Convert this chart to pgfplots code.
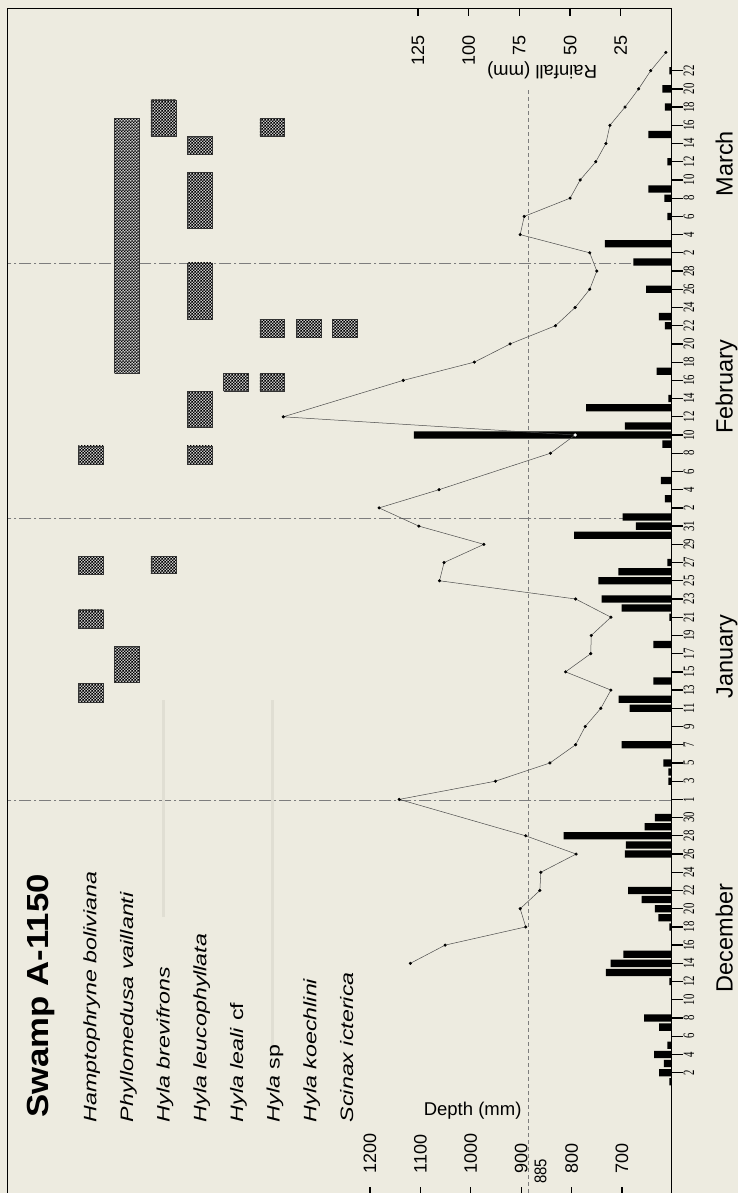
\documentclass[border=0pt]{standalone}
\usepackage{fontspec}
\setmainfont{Liberation Sans}
\newfontfamily\dayfont{Liberation Serif}
\usepackage{pgfplots}
\usepackage{pgfplotstable}
\pgfplotsset{compat=1.18}
\usetikzlibrary{patterns}
\definecolor{bg}{RGB}{237,235,224}
\definecolor{guide}{RGB}{224,222,211}
\definecolor{sepc}{RGB}{125,125,125}
\pgfdeclarepatternformonly{finecheck}{\pgfqpoint{0pt}{0pt}}{\pgfqpoint{3.3pt}{3.3pt}}{\pgfqpoint{3.3pt}{3.3pt}}{%
  \pgfpathrectangle{\pgfqpoint{0pt}{0pt}}{\pgfqpoint{1.65pt}{1.65pt}}%
  \pgfpathrectangle{\pgfqpoint{1.65pt}{1.65pt}}{\pgfqpoint{1.65pt}{1.65pt}}%
  \pgfusepath{fill}}

% daily rainfall (day index: Dec d = d, Jan d = 31+d, Feb d = 62+d, Mar d = 90+d)
\pgfplotstableread{
day rain
1 1
2 6.1
3 3.7
4 8.5
5 2
7 6.1
8 13.5
12 1
13 32.3
14 30
15 23.7
18 1
19 6.4
20 8.2
21 14.7
22 21.4
26 22.9
27 22.4
28 53.2
29 13.2
30 8.2
34 1.5
35 1.5
36 4
38 24.5
42 20.6
43 26
45 8.9
49 8.9
52 1
53 24.5
54 34.4
56 36
57 26.2
58 2
61 48
62 17.5
63 24.1
65 3.2
67 5.2
71 4.5
72 127
73 22.9
75 42.1
76 1.5
79 7.3
84 3.2
85 6.2
88 12.5
91 18.8
93 32.8
96 2
98 3.5
99 11.4
102 2
105 11.4
108 3.2
110 4.5
112 1
}\rain

% swamp depth
\pgfplotstableread{
day depth
14 1120
16 1051
18 891
20 902
22 863
24 861
26 791
28 891
32 1142
34 951
36 843
38 792
40 773
42 742
44 722
46 812
48 762
50 761
52 722
54 792
56 1062
58 1053
60 974
62 1103
64 1182
66 1063
70 842
72 793
74 1372
78 1134
80 993
82 922
84 832
86 793
88 764
90 750
92 764
94 902
96 894
98 803
100 783
102 752
104 732
106 724
108 694
110 667
112 643
114 613
}\depth

\pgfplotsset{
  base/.style={at={(7pt,0pt)}, anchor=south west, scale only axis,
    width=664.4pt, height=1185pt, ymin=-11.21, ymax=118.88, clip=false},
  spbox/.style={preaction={fill=black!22}, pattern=finecheck, pattern color=black, draw=black!80, line width=0.6pt},
}
\tikzset{
  splab/.style={rotate=90, xscale=1.29, anchor=base west, font=\fontsize{18}{18}\selectfont},
  ticklab/.style={rotate=90, font=\fontsize{18}{18}\selectfont},
  monthlab/.style={rotate=90, anchor=base, font=\fontsize{23.5}{24}\selectfont},
}

\begin{document}
\begin{tikzpicture}
\useasboundingbox (0,0) rectangle (738pt,1193pt);
\fill[bg] (0,0) rectangle (738pt,1193pt);

% ---------- date axis, month separators ----------
\begin{axis}[base, xmin=602, xmax=1920.2, x dir=reverse,
  axis y line*=right, axis x line=none,
  axis line style={-, line width=1.8pt},
  xtick=\empty,
  ytick={2,4,...,112},
  yticklabels={2,4,6,8,10,12,14,16,18,20,22,24,26,28,30,1,3,5,7,9,11,13,15,17,19,21,23,25,27,29,31,2,4,6,8,10,12,14,16,18,20,22,24,26,28,2,4,6,8,10,12,14,16,18,20,22},
  tick align=outside, major tick length=12pt,
  tick style={black, line width=1.3pt},
  yticklabel style={font=\dayfont\fontsize{15.8}{16}\selectfont, rotate=90, xscale=0.68, anchor=north, inner sep=0pt},
]
\addplot[sepc, line width=0.7pt, dash pattern=on 12pt off 3pt on 2pt off 3pt] coordinates {(602,31.9) (1920.2,31.9)};
\addplot[sepc, line width=0.7pt, dash pattern=on 12pt off 3pt on 2pt off 3pt] coordinates {(602,62.9) (1920.2,62.9)};
\addplot[sepc, line width=0.7pt, dash pattern=on 12pt off 3pt on 2pt off 3pt] coordinates {(602,90.9) (1920.2,90.9)};
\addplot[sepc, line width=0.6pt, dash pattern=on 4pt off 3pt] coordinates {(885,-11.21) (885,110)};
\node[monthlab] at (axis cs:480.75,16.8) {December};
\node[monthlab] at (axis cs:480.75,47.7) {January};
\node[monthlab] at (axis cs:480.75,77.3) {February};
\node[monthlab] at (axis cs:480.75,101.8) {March};
\end{axis}

% ---------- rainfall bars ----------
\begin{axis}[base, xmin=0, xmax=327.8, x dir=reverse,
  axis x line*=top, axis y line*=left,
  axis line style={-, line width=0.9pt},
  ytick=\empty, xtick={25,50,75,100,125}, xticklabels={},
  tick align=inside, major tick length=8pt, tick style={black, line width=1.2pt},
]
\addplot[xbar, bar width=7.3pt, bar shift=0pt, fill=black, draw=none] table[x=rain, y=day]{\rain};
\node[ticklab, anchor=east] at (axis cs:25,116.28) {25};
\node[ticklab, anchor=east] at (axis cs:50,116.28) {50};
\node[ticklab, anchor=east] at (axis cs:75,116.28) {75};
\node[ticklab, anchor=east] at (axis cs:100,116.28) {100};
\node[ticklab, anchor=east] at (axis cs:125,116.28) {125};
\node[rotate=180, font=\fontsize{18.5}{19}\selectfont] at (axis cs:63.8,112.02) {Rainfall (mm)};
\end{axis}

% ---------- species presence ----------
\begin{axis}[base, xmin=-1.3085, xmax=16.994, hide axis]
\addplot[guide, line width=2.5pt] coordinates {(3,19.1) (3,42.9)};
\addplot[guide, line width=2.5pt] coordinates {(6,4.5) (6,42.9)};
% Hamptophryne boliviana
\addplot[spbox] coordinates {(0.656,68.8) (1.344,68.8) (1.344,70.8) (0.656,70.8) (0.656,68.8)};
\addplot[spbox] coordinates {(0.656,56.7) (1.344,56.7) (1.344,58.7) (0.656,58.7) (0.656,56.7)};
\addplot[spbox] coordinates {(0.656,50.8) (1.344,50.8) (1.344,52.8) (0.656,52.8) (0.656,50.8)};
\addplot[spbox] coordinates {(0.656,42.7) (1.344,42.7) (1.344,44.75) (0.656,44.75) (0.656,42.7)};
% Phyllomedusa vaillanti
\addplot[spbox] coordinates {(1.656,78.8) (2.344,78.8) (2.344,106.8) (1.656,106.8) (1.656,78.8)};
\addplot[spbox] coordinates {(1.656,44.8) (2.344,44.8) (2.344,48.8) (1.656,48.8) (1.656,44.8)};
% Hyla brevifrons
\addplot[spbox] coordinates {(2.656,104.8) (3.344,104.8) (3.344,108.8) (2.656,108.8) (2.656,104.8)};
\addplot[spbox] coordinates {(2.656,56.8) (3.344,56.8) (3.344,58.7) (2.656,58.7) (2.656,56.8)};
% Hyla leucophyllata
\addplot[spbox] coordinates {(3.656,102.8) (4.344,102.8) (4.344,104.8) (3.656,104.8) (3.656,102.8)};
\addplot[spbox] coordinates {(3.656,94.7) (4.344,94.7) (4.344,100.8) (3.656,100.8) (3.656,94.7)};
\addplot[spbox] coordinates {(3.656,84.7) (4.344,84.7) (4.344,90.9) (3.656,90.9) (3.656,84.7)};
\addplot[spbox] coordinates {(3.656,72.8) (4.344,72.8) (4.344,76.8) (3.656,76.8) (3.656,72.8)};
\addplot[spbox] coordinates {(3.656,68.8) (4.344,68.8) (4.344,70.8) (3.656,70.8) (3.656,68.8)};
% Hyla leali cf
\addplot[spbox] coordinates {(4.656,76.8) (5.344,76.8) (5.344,78.8) (4.656,78.8) (4.656,76.8)};
% Hyla sp
\addplot[spbox] coordinates {(5.656,104.8) (6.344,104.8) (6.344,106.8) (5.656,106.8) (5.656,104.8)};
\addplot[spbox] coordinates {(5.656,82.7) (6.344,82.7) (6.344,84.7) (5.656,84.7) (5.656,82.7)};
\addplot[spbox] coordinates {(5.656,76.8) (6.344,76.8) (6.344,78.8) (5.656,78.8) (5.656,76.8)};
% Hyla koechlini
\addplot[spbox] coordinates {(6.656,82.7) (7.344,82.7) (7.344,84.7) (6.656,84.7) (6.656,82.7)};
% Scinax icterica
\addplot[spbox] coordinates {(7.656,82.7) (8.344,82.7) (8.344,84.7) (7.656,84.7) (7.656,82.7)};

\node[rotate=90, xscale=1.14, anchor=base west, font=\bfseries\fontsize{30.5}{31}\selectfont] at (axis cs:-0.163,-3.38) {Swamp A-1150};
\node[splab] at (axis cs:1.154,-3.93) {\textit{Hamptophryne boliviana}};
\node[splab] at (axis cs:2.163,-3.93) {\textit{Phyllomedusa vaillanti}};
\node[splab] at (axis cs:3.174,-3.93) {\textit{Hyla brevifrons}};
\node[splab] at (axis cs:4.185,-3.93) {\textit{Hyla leucophyllata}};
\node[splab] at (axis cs:5.193,-3.93) {\textit{Hyla leali} cf};
\node[splab] at (axis cs:6.204,-3.93) {\textit{Hyla} sp};
\node[splab] at (axis cs:7.215,-3.93) {\textit{Hyla koechlini}};
\node[splab] at (axis cs:8.223,-3.93) {\textit{Scinax icterica}};
\end{axis}

% ---------- depth axis and depth curve ----------
\begin{axis}[base, xmin=602, xmax=1920.2, x dir=reverse,
  axis x line*=bottom, axis y line=none,
  axis line style={-, line width=0.9pt},
  xtick={700,800,900,1000,1100,1200}, xticklabels={}, ytick=\empty,
  tick align=inside, major tick length=6pt, tick style={black, line width=1.2pt},
]
\addplot[black!70, line width=0.5pt, mark=*, mark size=1.3pt, mark options={black, fill=black}] table[x=depth, y=day]{\depth};
\addplot[only marks, mark=*, mark size=1.4pt, mark options={white, fill=white}] coordinates {(793,72)};
\node[ticklab, anchor=west] at (axis cs:700,-9.42) {700};
\node[ticklab, anchor=west] at (axis cs:800,-9.42) {800};
\node[ticklab, anchor=west] at (axis cs:900,-9.42) {900};
\node[ticklab, anchor=west] at (axis cs:1000,-9.42) {1000};
\node[ticklab, anchor=west] at (axis cs:1100,-9.42) {1100};
\node[ticklab, anchor=west] at (axis cs:1200,-9.42) {1200};
\node[rotate=90, xscale=0.88, anchor=west, font=\fontsize{17}{17}\selectfont] at (axis cs:861.7,-10.56) {885};
\node[anchor=east, font=\fontsize{18.5}{19}\selectfont] at (axis cs:892.5,-2.15) {Depth (mm)};
\end{axis}
\end{tikzpicture}
\end{document}
